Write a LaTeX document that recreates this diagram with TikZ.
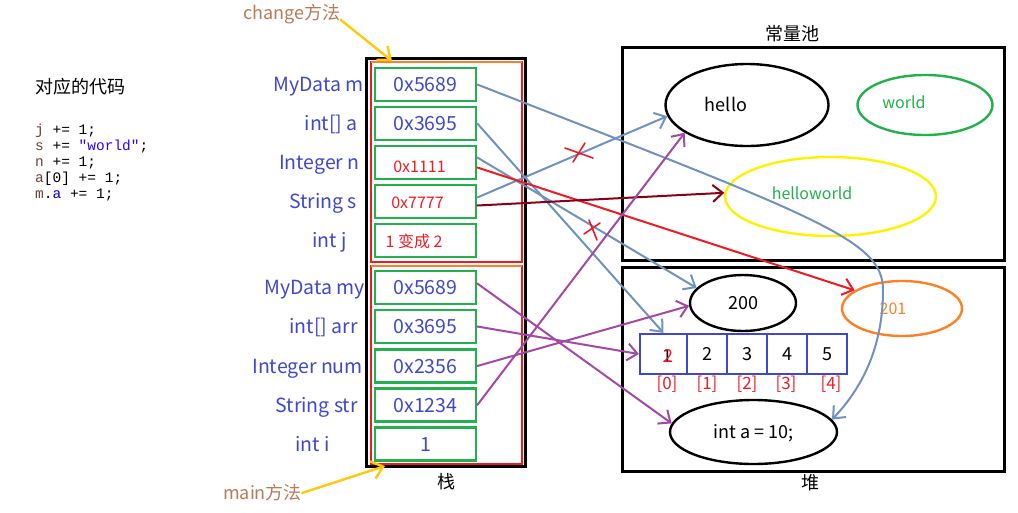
\documentclass[tikz,border=0pt]{standalone}
\usepackage{fontspec}
\setmainfont{Noto Sans CJK SC}
\newfontfamily\codefont{Liberation Mono}
\usetikzlibrary{arrows.meta,shapes.geometric}
\definecolor{pblue}{RGB}{63,72,204}
\definecolor{pgreen}{RGB}{34,177,76}
\definecolor{pred}{RGB}{237,28,36}
\definecolor{porange}{RGB}{255,127,39}
\definecolor{pyellow}{RGB}{255,242,0}
\definecolor{pgold}{RGB}{255,201,14}
\definecolor{pbrown}{RGB}{185,122,87}
\definecolor{psteel}{RGB}{112,146,190}
\definecolor{ppurple}{RGB}{163,73,164}
\definecolor{pmaroon}{RGB}{136,0,21}
\definecolor{cvar}{RGB}{106,62,62}
\definecolor{cstr}{RGB}{42,0,255}
\definecolor{cfld}{RGB}{0,0,192}
\tikzset{
  txtbig/.style ={font=\fontsize{18}{20}\selectfont, inner sep=0pt,
                  text height=13pt, text depth=0pt},
  txtvar/.style ={font=\fontsize{19.5}{21}\selectfont, inner sep=0pt,
                  text height=14pt, text depth=0pt},
  txtsm/.style  ={font=\fontsize{16}{18}\selectfont, inner sep=0pt,
                  text height=11.7pt, text depth=0pt},
  vname/.style  ={txtvar, text=pblue, anchor=east},
  slot/.style   ={draw=pgreen, line width=2.6pt, minimum width=101pt,
                  minimum height=33pt, txtvar, text=pblue},
  elem/.style   ={draw=pblue, line width=2.2pt, minimum width=40pt,
                  minimum height=40pt, txtbig},
  idx/.style    ={font=\fontsize{17}{19}\selectfont, inner sep=0pt,
                  text height=12.5pt, text depth=0pt, text=pred},
  ell/.style    ={ellipse, draw, line width=2.4pt, txtbig},
  ptr/.style    ={-{Straight Barb[length=10pt,width=17pt]},
                  line width=2pt, line cap=round},
  hint/.style   ={-{Straight Barb[length=11pt,width=18pt]},
                  line width=2.4pt, pgold, line cap=round},
  cross/.style  ={pred, line width=1.6pt, line cap=round},
  code/.style   ={font=\codefont\fontsize{14.5}{16}\selectfont,
                  inner sep=0pt, anchor=base west},
}
\begin{document}
\begin{tikzpicture}[x=1pt, y=-1pt]
\useasboundingbox (0,0) rectangle (1018,512);

% code on the left
\node[txtbig, anchor=west] (codehead) at (35,87) {对应的代码};
\node[code] (c1) at (35,134) {\textcolor{cvar}{j} += 1;};
\node[code] (c2) at (35,150) {\textcolor{cvar}{s} += \textcolor{cstr}{"world"};};
\node[code] (c3) at (35,166) {\textcolor{cvar}{n} += 1;};
\node[code] (c4) at (35,182) {\textcolor{cvar}{a}[0] += 1;};
\node[code] (c5) at (35,198) {\textcolor{cvar}{m}.\textcolor{cfld}{a} += 1;};

% stack with the two frames
\draw[line width=3pt] (366,58) rectangle (525,466);
\draw[pred, line width=2.6pt] (371,62) rectangle (522,262);
\draw[porange, line width=2.6pt] (371,62) -- (522,62);
\draw[pred, line width=2.6pt] (371,266) rectangle (522,464);
\draw[porange, line width=2.6pt] (371,266) -- (522,266);
\node[txtbig] (stack-t) at (446,482) {栈};

% change frame
\node[slot] (m) at (425.5,84.5)  {0x5689};
\node[slot] (a) at (425.5,123.5) {0x3695};
\node[slot] (n) at (425.5,162.5) {};
\node[slot] (s) at (425.5,201.5) {};
\node[slot] (j) at (425.5,240.5) {};
\node[txtsm, text=pred] (n-v) at (419.5,166.5) {0x1111};
\node[txtsm, text=pred] (s-v) at (417.5,203)   {0x7777};
\node[txtsm, text=pred] (j-v) at (414,242)     {1 变成 2};
\node[vname] (m-l) at (364,84.5)  {MyData m};
\node[vname] (a-l) at (358,123.5) {int[] a};
\node[vname] (n-l) at (360,162.5) {Integer n};
\node[vname] (s-l) at (357,201.5) {String s};
\node[vname] (j-l) at (347,240.5) {int j};

% main frame
\node[slot] (my)  at (425.5,287.5) {0x5689};
\node[slot] (arr) at (425.5,326.5) {0x3695};
\node[slot] (num) at (425.5,366)   {0x2356};
\node[slot] (str) at (425.5,405)   {0x1234};
\node[slot] (i)   at (425.5,444)   {1};
\node[vname] (my-l)  at (365,287.5) {MyData my};
\node[vname] (arr-l) at (358,326.5) {int[] arr};
\node[vname] (num-l) at (363,366)   {Integer num};
\node[vname] (str-l) at (358,405)   {String str};
\node[vname] (i-l)   at (330,444)   {int i};

% method hints
\node[txtbig, text=pbrown, anchor=west] (chg) at (243,13) {change方法};
\node[txtbig, text=pbrown, anchor=west] (mn) at (223,493) {main方法};
\coordinate (chg-end) at (392,61);
\coordinate (mn-end) at (385,466);
\draw[hint] (chg.south east) -- (chg-end);
\draw[hint] (mn.east) -- (mn-end);

% constant pool
\draw[line width=3pt] (622,47) rectangle (1004,260);
\node[txtbig] (pool-t) at (792,34) {常量池};
\node[ell, minimum width=163pt, minimum height=82pt] (hello) at (747,105) {};
\node[txtbig] (hello-t) at (726,105) {hello};
\node[ell, draw=pgreen, minimum width=135pt, minimum height=60pt] (world) at (925,105) {};
\node[txtsm, text=pgreen] (world-t) at (904,103) {world};
\node[ell, draw=pyellow, minimum width=211pt, minimum height=79pt] (hw) at (830.5,196.5) {};
\node[txtsm, text=pgreen] (hw-t) at (812,194) {helloworld};

% heap
\draw[line width=3pt] (622,267) rectangle (1004,471);
\node[txtbig] (heap-t) at (810,483) {堆};
\node[ell, minimum width=106pt, minimum height=56pt] (v200) at (743,303) {200};
\node[ell, draw=porange, minimum width=120pt, minimum height=55pt] (v201) at (902,308.5) {};
\node[txtsm, text=porange] (v201-t) at (893,309) {201};
\node[ell, minimum width=167pt, minimum height=64pt] (inta) at (753.5,432) {int a = 10;};
\node[elem, minimum width=47pt] (a0) at (663.5,354) {};
\node[elem] (a1) at (707,354) {2};
\node[elem] (a2) at (747,354) {3};
\node[elem] (a3) at (787,354) {4};
\node[elem] (a4) at (827,354) {5};
\node[txtbig] (a0-old) at (667,356) {1};
\node[txtbig, text=pred] (a0-new) at (668,356) {2};
\node[idx] (ix0) at (667,383) {[0]};
\node[idx] (ix1) at (707,383) {[1]};
\node[idx] (ix2) at (747,383) {[2]};
\node[idx] (ix3) at (786,383) {[3]};
\node[idx] (ix4) at (831,383) {[4]};

% references
\draw[ptr, psteel] (m.east) .. controls (820,218) and (883,240) .. (883,290)
  .. controls (883,350) and (860,390) .. (inta.9);
\draw[ptr, psteel] (a.east) -- (a0.north);
\draw[ptr, psteel] ([yshift=5pt]n.east) -- (v200.162);
\draw[ptr, psteel] ([yshift=4pt]s.east) -- (hello.188);
\draw[ptr, pred] ([yshift=-5pt]n.east) -- (v201.159);
\draw[ptr, pmaroon] ([yshift=-4pt]s.east) -- (hw.178);
\draw[ptr, ppurple] ([yshift=4pt]my.east) -- (inta.174);
\draw[ptr, ppurple] (arr.east) -- (a0.west);
\draw[ptr, ppurple] (num.east) -- (v200.183);
\draw[ptr, ppurple] (str.east) -- (hello.204);

% crossed out links
\coordinate (cut1) at (578,154);
\coordinate (cut2) at (593,228);
\draw[cross] (cut1) ++(-13,-6) -- ++(28,10) (cut1) ++(-5,8) -- ++(12,-19);
\draw[cross] (cut2) ++(-9,6) -- ++(16,-11) (cut2) ++(-4,-8) -- ++(8,20);
\end{tikzpicture}
\end{document}
